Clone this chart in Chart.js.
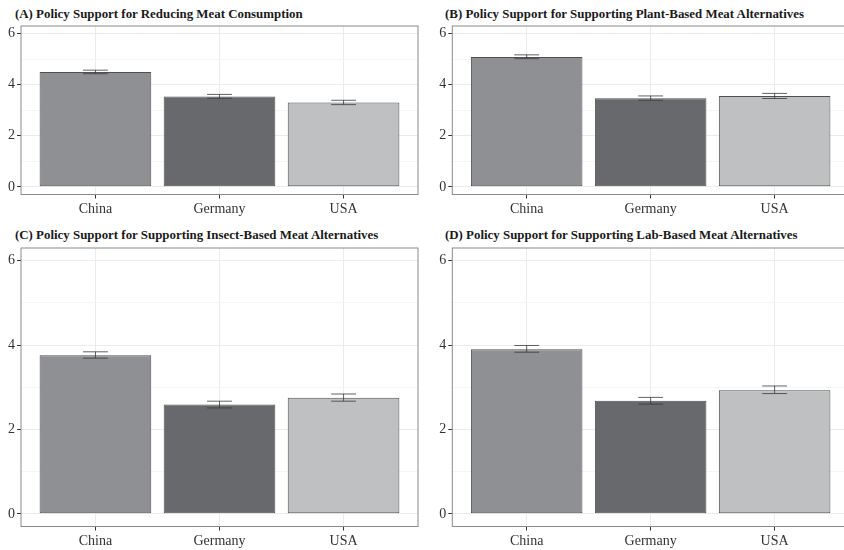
<!DOCTYPE html>
<html>
<head>
<meta charset="utf-8">
<script src="https://cdn.jsdelivr.net/npm/chart.js@4.4.0/dist/chart.umd.min.js"></script>
<style>
  body { margin: 0; background: #fff; width: 844px; height: 550px; overflow: hidden; position: relative; font-family: 'Liberation Serif', serif; }
  .panel { position: absolute; }
  .title { position: absolute; font-weight: bold; font-size: 12.9px; line-height: 14px; color: #1a1a1a; white-space: nowrap; }
</style>
</head>
<body>
<div class="title" style="left:15px;top:7px">(A) Policy Support for Reducing Meat Consumption</div>
<div class="title" style="left:445px;top:7px">(B) Policy Support for Supporting Plant-Based Meat Alternatives</div>
<div class="title" style="left:15px;top:228px">(C) Policy Support for Supporting Insect-Based Meat Alternatives</div>
<div class="title" style="left:445px;top:228px">(D) Policy Support for Supporting Lab-Based Meat Alternatives</div>

<div class="panel" style="left:0;top:0;width:422px;height:220px"><canvas id="chartA"></canvas></div>
<div class="panel" style="left:422px;top:0;width:430px;height:220px"><canvas id="chartB"></canvas></div>
<div class="panel" style="left:0;top:220px;width:422px;height:330px"><canvas id="chartC"></canvas></div>
<div class="panel" style="left:422px;top:220px;width:430px;height:330px"><canvas id="chartD"></canvas></div>

<script>
// Data
const countries = ['China', 'Germany', 'USA'];
const yTicks = [0, 1, 2, 3, 4, 5, 6];

const meanA = [4.50, 3.54, 3.30];
const lowA  = [4.43, 3.47, 3.22];
const highA = [4.57, 3.62, 3.39];

const meanB = [5.09, 3.47, 3.56];
const lowB  = [5.02, 3.39, 3.46];
const highB = [5.17, 3.56, 3.66];

const meanC = [3.76, 2.59, 2.75];
const lowC  = [3.69, 2.51, 2.67];
const highC = [3.84, 2.67, 2.84];

const meanD = [3.90, 2.68, 2.93];
const lowD  = [3.83, 2.60, 2.85];
const highD = [3.99, 2.76, 3.03];

// Styling
const barColors = ['#8f9094', '#68696d', '#bfc0c2'];
const fontFamily = "'Liberation Serif', serif";

// Error bars drawn through the chart scales
const errorBars = {
    id: 'errorBars',
    afterDatasetsDraw(chart, args, opts) {
        const { ctx, scales: { x, y } } = chart;
        ctx.save();
        ctx.strokeStyle = '#3a3a3a';
        ctx.lineWidth = 0.8;
        opts.low.forEach((lo, i) => {
            const px = x.getPixelForValue(i + 1);
            const half = x.getPixelForValue(i + 1 + 0.1) - px;
            const yLo = y.getPixelForValue(lo);
            const yHi = y.getPixelForValue(opts.high[i]);
            ctx.beginPath();
            ctx.moveTo(px, yLo); ctx.lineTo(px, yHi);
            ctx.moveTo(px - half, yLo); ctx.lineTo(px + half, yLo);
            ctx.moveTo(px - half, yHi); ctx.lineTo(px + half, yHi);
            ctx.stroke();
        });
        ctx.restore();
    }
};

// Panel border round the plot area
const panelBorder = {
    id: 'panelBorder',
    afterDraw(chart) {
        const { ctx, chartArea: a } = chart;
        ctx.save();
        ctx.strokeStyle = '#8a8a8a';
        ctx.lineWidth = 1;
        ctx.strokeRect(a.left, a.top, a.right - a.left, a.bottom - a.top);
        ctx.restore();
    }
};

function makePanel(id, means, lows, highs, yWidth, xHeight, padTop, padRight) {
    new Chart(document.getElementById(id), {
        type: 'bar',
        data: {
            datasets: [{
                data: means.map((v, i) => ({ x: i + 1, y: v })),
                backgroundColor: barColors,
                borderColor: '#4f4f4f',
                borderWidth: 1,
                borderSkipped: false,
                categoryPercentage: 1,
                barPercentage: 0.9
            }]
        },
        options: {
            responsive: true,
            maintainAspectRatio: false,
            animation: false,
            layout: { padding: { top: padTop, right: padRight, left: 0, bottom: 0 } },
            plugins: {
                legend: { display: false },
                tooltip: { enabled: false },
                errorBars: { low: lows, high: highs }
            },
            scales: {
                x: {
                    type: 'linear',
                    min: 0.4,
                    max: 3.6,
                    offset: false,
                    afterBuildTicks: axis => { axis.ticks = countries.map((c, i) => ({ value: i + 1 })); },
                    afterFit: axis => { axis.height = xHeight; },
                    ticks: {
                        callback: v => countries[v - 1],
                        color: '#333',
                        font: { family: fontFamily, size: 14 },
                        padding: 2,
                        autoSkip: false,
                        maxRotation: 0
                    },
                    grid: { offset: false, color: '#ebebeb', tickColor: '#333', tickLength: 4 },
                    border: { display: false }
                },
                y: {
                    min: -0.3,
                    max: 6.3,
                    afterBuildTicks: axis => { axis.ticks = yTicks.map(v => ({ value: v })); },
                    afterFit: axis => { axis.width = yWidth; },
                    ticks: {
                        callback: v => (v % 2 === 0 ? v : ''),
                        color: '#333',
                        font: { family: fontFamily, size: 14 },
                        padding: 2
                    },
                    grid: {
                        color: ctx => (ctx.tick && ctx.tick.value % 2 ? '#f5f5f5' : '#ebebeb'),
                        tickColor: ctx => (ctx.tick && ctx.tick.value % 2 ? 'rgba(0,0,0,0)' : '#333'),
                        tickLength: 4
                    },
                    border: { display: false }
                }
            }
        },
        plugins: [errorBars, panelBorder]
    });
}

makePanel('chartA', meanA, lowA, highA, 21, 25.5, 26, 4);
makePanel('chartB', meanB, lowB, highB, 30.3, 25.5, 26, 3);
makePanel('chartC', meanC, lowC, highC, 21, 23.5, 28, 4);
makePanel('chartD', meanD, lowD, highD, 30.3, 23.5, 28, 3);
</script>
</body>
</html>
